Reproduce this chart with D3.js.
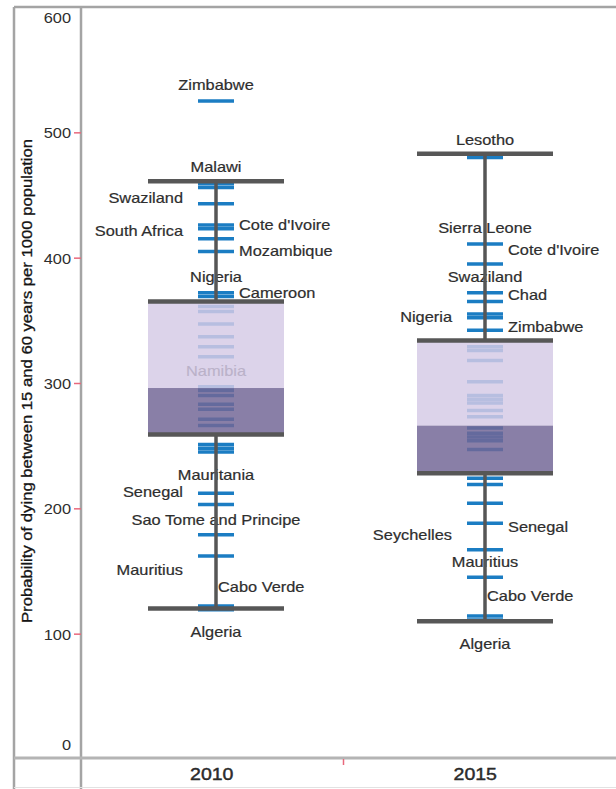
<!DOCTYPE html>
<meta charset="utf-8">
<head>
<style>
  body { margin: 0; background: #fff; }
  text { font-family: "Liberation Sans", Arial, sans-serif; fill: #2e2e2e; }
</style>
</head>
<body>
<script src="https://d3js.org/d3.v7.min.js"></script>
<script>
// chart values
var years = ["2010", "2015"];
var yTicks = [0, 100, 200, 300, 400, 500, 600];
var whiskerLow = [120, 110];
var q1 = [259, 228];
var median = [296, 266];
var q3 = [365, 334];
var whiskerHigh = [461, 483];

// one blue dash per country
var rates2010 = [525, 459, 456, 443, 426, 423, 415, 405, 372, 369, 361, 357, 347, 337, 329, 321,
    297, 294, 290, 283, 279, 271, 266, 251, 248, 245, 212, 203, 179, 162, 122, 119];
var rates2015 = [480, 411, 395, 372, 365, 355, 352, 342, 329, 326, 318, 301, 290, 287, 284, 278,
    273, 264, 260, 257, 254, 247, 224, 219, 204, 188, 167, 145, 114, 111];

// [country, value where label sits, side]
var labels2010 = [
    ["Zimbabwe", 538, "mid"],
    ["Malawi", 472, "mid"],
    ["Swaziland", 448, "left"],
    ["South Africa", 421, "left"],
    ["Cote d'Ivoire", 426, "right"],
    ["Mozambique", 405, "right"],
    ["Nigeria", 385, "mid"],
    ["Cameroon", 372, "right"],
    ["Namibia", 310, "mid"],
    ["Mauritania", 227, "mid"],
    ["Senegal", 213, "left"],
    ["Sao Tome and Principe", 191, "mid"],
    ["Mauritius", 151, "left"],
    ["Cabo Verde", 137, "start"],
    ["Algeria", 101, "mid"]
];
var labels2015 = [
    ["Lesotho", 494, "mid"],
    ["Sierra Leone", 424, "mid"],
    ["Cote d'Ivoire", 406, "right"],
    ["Swaziland", 385, "mid"],
    ["Chad", 370, "right"],
    ["Nigeria", 353, "left"],
    ["Zimbabwe", 345, "right"],
    ["Senegal", 185, "right"],
    ["Seychelles", 179, "left"],
    ["Mauritius", 157, "mid"],
    ["Cabo Verde", 130, "start"],
    ["Algeria", 92, "mid"]
];

var rates = [rates2010, rates2015];
var labels = [labels2010, labels2015];

var width = 616, height = 789;
var sx = 1.17; // text in the picture is a bit wide

var svg = d3.select("body").append("svg")
    .attr("width", width)
    .attr("height", height);

var y = d3.scaleLinear().domain([0, 600]).range([759, 7]);
var xAxisScale = d3.scaleBand().domain(years).range([80, 607]);
var xBox = d3.scalePoint().domain(years).range([216, 485]);
var boxW = 136, dashW = 36;

// frame
var frame = svg.append("g").attr("stroke", "#a4a4a4").attr("stroke-width", 2.5);
frame.append("line").attr("x1", 14).attr("x2", 14).attr("y1", 7).attr("y2", height);
frame.append("line").attr("x1", 81).attr("x2", 81).attr("y1", 7).attr("y2", height);
frame.append("line").attr("x1", 14).attr("x2", width).attr("y1", 7).attr("y2", 7);
frame.append("line").attr("x1", 14).attr("x2", width).attr("y1", 758).attr("y2", 758)
    .attr("stroke", "#b4b4b4").attr("stroke-width", 3);
frame.append("line").attr("x1", 14).attr("x2", width).attr("y1", 787.5).attr("y2", 787.5)
    .attr("stroke", "#e2e2e2").attr("stroke-width", 1);

// y axis
var yAxis = svg.append("g")
    .attr("transform", "translate(81,0)")
    .call(d3.axisLeft(y).tickValues(yTicks).tickSize(7).tickPadding(9));
yAxis.select(".domain").remove();
yAxis.selectAll(".tick line")
    .attr("stroke", "#e8687c")
    .attr("stroke-width", 1.5)
    .attr("opacity", function(d) { return (d === 0 || d === 600) ? 0 : 1; });
yAxis.selectAll(".tick text")
    .attr("fill", "#3a3a3a")
    .style("font-size", "14px")
    .attr("x", -10 / sx)
    .attr("dy", function(d) {
        if (d === 600) return "1.1em";
        if (d === 0) return "-0.65em";
        return "0.4em";
    })
    .attr("transform", "scale(" + sx + ",1)");

svg.append("text")
    .attr("transform", "translate(32,381) rotate(-90)")
    .attr("text-anchor", "middle")
    .attr("textLength", 484)
    .attr("lengthAdjust", "spacingAndGlyphs")
    .style("font-size", "14px")
    .style("fill", "#151515")
    .style("stroke", "#151515")
    .style("stroke-width", 0.3)
    .text("Probability of dying between 15 and 60 years per 1000 population");

// x axis
var xAxis = svg.append("g")
    .attr("transform", "translate(0,758)")
    .call(d3.axisBottom(xAxisScale).tickSize(0).tickPadding(0));
xAxis.select(".domain").remove();
xAxis.selectAll(".tick text")
    .attr("fill", "#222")
    .style("font-size", "17px")
    .style("stroke", "#222")
    .style("stroke-width", 0.4)
    .attr("y", 22)
    .attr("dy", 0)
    .attr("transform", "scale(1.15,1)");
svg.append("line")
    .attr("x1", xAxisScale(years[1])).attr("x2", xAxisScale(years[1]))
    .attr("y1", 759).attr("y2", 765)
    .attr("stroke", "#e8687c").attr("stroke-width", 1.5);

// one group per year
years.forEach(function(yr, i) {
    var cx = xBox(yr);
    var g = svg.append("g");

    // country labels sit under everything else
    g.selectAll("text.country")
        .data(labels[i])
        .enter().append("text")
        .attr("class", "country")
        .style("font-size", "14px")
        .style("stroke", "#2e2e2e")
        .style("stroke-width", 0.2)
        .attr("dy", "0.36em")
        .attr("text-anchor", function(d) {
            return d[2] === "left" ? "end" : (d[2] === "mid" ? "middle" : "start");
        })
        .attr("transform", function(d) {
            var px = cx;
            if (d[2] === "left") px = cx - dashW / 2 - 15;
            if (d[2] === "right") px = cx + dashW / 2 + 5;
            if (d[2] === "start") px = cx + 2;
            return "translate(" + px + "," + y(d[1]) + ") scale(" + sx + ",1)";
        })
        .text(function(d) { return d[0]; });

    // country dashes
    g.selectAll("line.dash")
        .data(rates[i])
        .enter().append("line")
        .attr("class", "dash")
        .attr("x1", cx - dashW / 2)
        .attr("x2", cx + dashW / 2)
        .attr("y1", function(d) { return y(d); })
        .attr("y2", function(d) { return y(d); })
        .attr("stroke", "#1b7dc3")
        .attr("stroke-width", 3.5);

    // whisker stems
    g.append("line")
        .attr("x1", cx).attr("x2", cx)
        .attr("y1", y(whiskerHigh[i])).attr("y2", y(q3[i]))
        .attr("stroke", "#565656").attr("stroke-width", 3.5);
    g.append("line")
        .attr("x1", cx).attr("x2", cx)
        .attr("y1", y(q1[i])).attr("y2", y(whiskerLow[i]))
        .attr("stroke", "#565656").attr("stroke-width", 3.5);

    // box halves, see-through so the dashes show
    g.append("rect")
        .attr("x", cx - boxW / 2).attr("width", boxW)
        .attr("y", y(q3[i])).attr("height", y(median[i]) - y(q3[i]))
        .attr("fill", "#d5cae6").attr("fill-opacity", 0.84);
    g.append("rect")
        .attr("x", cx - boxW / 2).attr("width", boxW)
        .attr("y", y(median[i])).attr("height", y(q1[i]) - y(median[i]))
        .attr("fill", "#726696").attr("fill-opacity", 0.84);

    // caps and box edges
    [whiskerHigh[i], q3[i], q1[i], whiskerLow[i]].forEach(function(v) {
        g.append("line")
            .attr("x1", cx - boxW / 2).attr("x2", cx + boxW / 2)
            .attr("y1", y(v)).attr("y2", y(v))
            .attr("stroke", "#575757").attr("stroke-width", 4.5);
    });
});
</script>
</body>
